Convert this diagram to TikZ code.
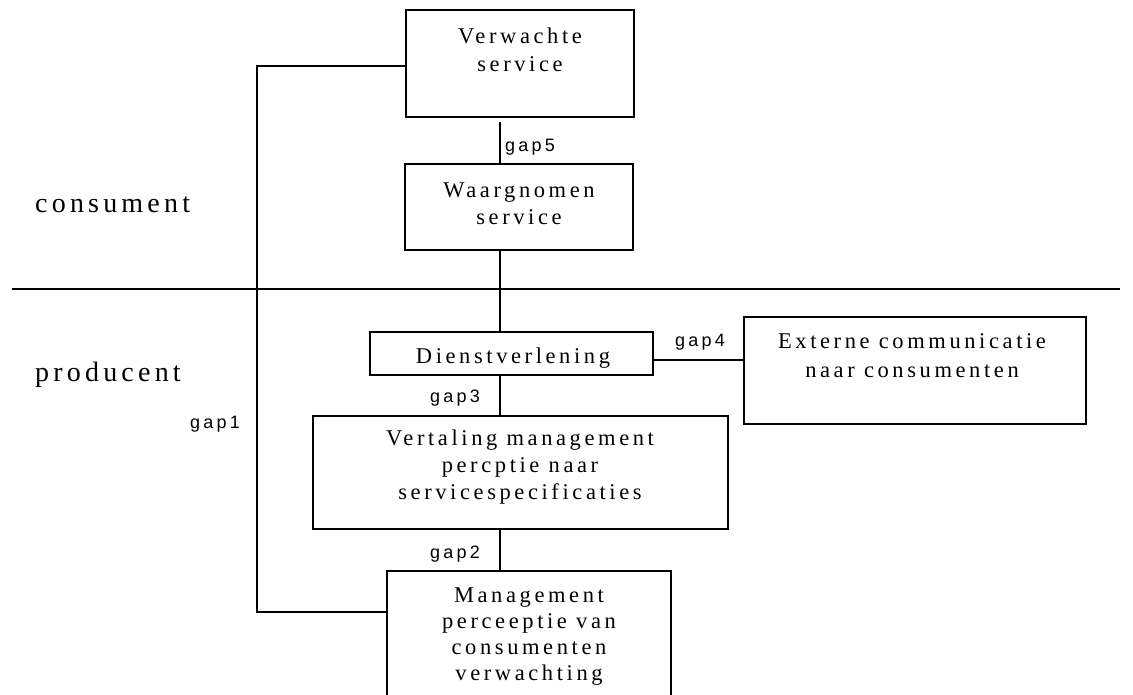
\documentclass[tikz,border=0pt]{standalone}
\usepackage{fontspec}
\setmainfont{Liberation Serif}
\newfontfamily\boxfont[LetterSpace=16]{Liberation Serif}
\newfontfamily\regfont[LetterSpace=15]{Liberation Serif}
\newfontfamily\gapfont[LetterSpace=18]{Liberation Sans}
\newcommand{\tp}{\rule{0pt}{16pt}}
\tikzset{
  box/.style={draw, line width=1.6pt, rectangle, inner sep=0pt, outer sep=0pt},
  txt/.style={anchor=north, inner sep=0pt, align=center, font=\boxfont\fontsize{22.5}{27}\selectfont},
  gaplbl/.style={anchor=base west, inner sep=0pt, font=\gapfont\fontsize{18}{20}\selectfont},
  region/.style={anchor=base west, inner sep=0pt, font=\regfont\fontsize{28}{30}\selectfont},
  conn/.style={line width=1.5pt},
}
\begin{document}
\begin{tikzpicture}[x=1pt,y=-1pt]
\useasboundingbox (0,0) rectangle (1133,695);
\clip (0,0) rectangle (1133,695);
\fill[white] (0,0) rectangle (1133,695);

% boxes
\node[box, minimum width=228pt, minimum height=107pt] (vw) at (520,63.5) {};
\node[box, minimum width=228pt, minimum height=86pt] (wn) at (519,207) {};
\node[box, minimum width=283pt, minimum height=43pt] (dv) at (511.5,353.5) {};
\node[box, minimum width=342pt, minimum height=107pt] (ex) at (915,370.5) {};
\node[box, minimum width=415pt, minimum height=113pt] (vt) at (520.5,472.5) {};
\node[box, minimum width=284pt, minimum height=139pt] (mg) at (529,640.5) {};

% texts
\node[txt, font=\boxfont\fontsize{22.5}{28}\selectfont] (vwt) at (520,27) {\tp Verwachte\\service};
\node[txt] (wnt) at (519,181) {\tp Waargnomen\\service};
\node[txt] (dvt) at (513,347) {\tp Dienstverlening};
\node[txt, font=\boxfont\fontsize{22.5}{29}\selectfont] (ext) at (912,332) {\tp Externe communicatie\\naar consumenten};
\node[txt] (vtt) at (520,429) {\tp Vertaling management\\percptie naar\\servicespecificaties};
\node[txt, font=\boxfont\fontsize{22.5}{26}\selectfont] (mgt) at (529,586) {\tp Management\\perceeptie van\\consumenten\\verwachting};

% region labels and divider
\node[region] (cons) at (35,213) {consument};
\node[region] (prod) at (35,381) {producent};
\coordinate (divL) at (12,289);
\coordinate (divR) at (1120,289);
\draw[line width=1.2pt] (divL) -- (divR);

% connectors
\coordinate (g5top) at (500,122);
\draw[conn] (g5top) -- (g5top |- wn.north);
\draw[conn] (wn.south -| g5top) -- (dv.north -| g5top);
\draw[conn] (dv.south -| g5top) -- (vt.north -| g5top);
\draw[conn] (vt.south -| g5top) -- (mg.north -| g5top);
\coordinate (g4y) at (0,360);
\draw[conn] (dv.east |- g4y) -- (ex.west |- g4y);
\coordinate (lpTop) at (257,66);
\coordinate (lpBot) at (257,612);
\draw[conn] (vw.west |- lpTop) -- (lpTop) -- (lpBot) -- (mg.west |- lpBot);

% gap labels
\node[gaplbl] (gap5) at (505,152) {gap5};
\node[gaplbl] (gap4) at (675,346) {gap4};
\node[gaplbl] (gap3) at (430,402) {gap3};
\node[gaplbl] (gap2) at (430,558) {gap2};
\node[gaplbl] (gap1) at (190,428) {gap1};
\end{tikzpicture}
\end{document}
